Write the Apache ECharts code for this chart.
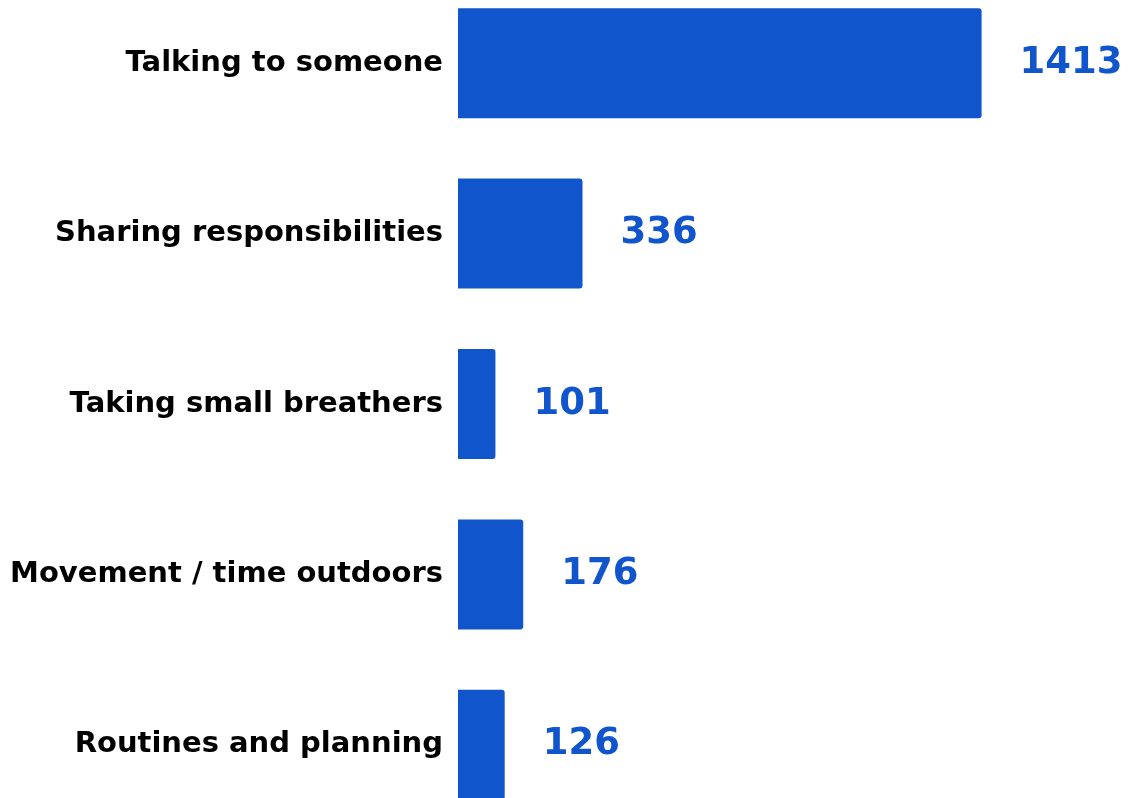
<!DOCTYPE html>
<html>
<head>
<meta charset="utf-8">
<script src="https://cdn.jsdelivr.net/npm/echarts@6/dist/echarts.min.js"></script>
<style>
  html, body { margin: 0; padding: 0; background: #ffffff; overflow: hidden; }
  body { width: 1131px; height: 798px; position: relative; }
  /* the plot runs slightly past the top and bottom edges of the page */
  #chart { position: absolute; left: 0; top: -22px; width: 1131px; height: 852px; }
</style>
</head>
<body>
<div id="chart"></div>
<script>
// Coping strategies and how many people mentioned each
const categories = [
  'Talking to someone',
  'Sharing responsibilities',
  'Taking small breathers',
  'Movement / time outdoors',
  'Routines and planning'
];
const counts = [1413, 336, 101, 176, 126];

const BAR_BLUE = '#1155cc';
const FONT = 'DejaVu Sans';

const chart = echarts.init(document.getElementById('chart'), null, { renderer: 'canvas' });

chart.setOption({
  animation: false,
  backgroundColor: '#ffffff',
  grid: {
    left: 458,
    right: 6,
    top: 0,
    bottom: 0,
    containLabel: false
  },
  xAxis: {
    type: 'value',
    min: 0,
    max: 1800,
    show: false
  },
  yAxis: {
    type: 'category',
    data: categories,
    inverse: true,
    axisLine: { show: false },
    axisTick: { show: false },
    splitLine: { show: false },
    axisLabel: {
      color: '#000000',
      fontFamily: FONT,
      fontWeight: 'bold',
      fontSize: 29,
      margin: 15
    }
  },
  series: [{
    type: 'bar',
    data: counts,
    barWidth: 110,
    itemStyle: {
      color: BAR_BLUE,
      borderRadius: [0, 3, 3, 0]
    },
    label: {
      show: true,
      position: 'right',
      distance: 38,
      color: BAR_BLUE,
      fontFamily: FONT,
      fontWeight: 'bold',
      fontSize: 37
    }
  }]
});
</script>
</body>
</html>
